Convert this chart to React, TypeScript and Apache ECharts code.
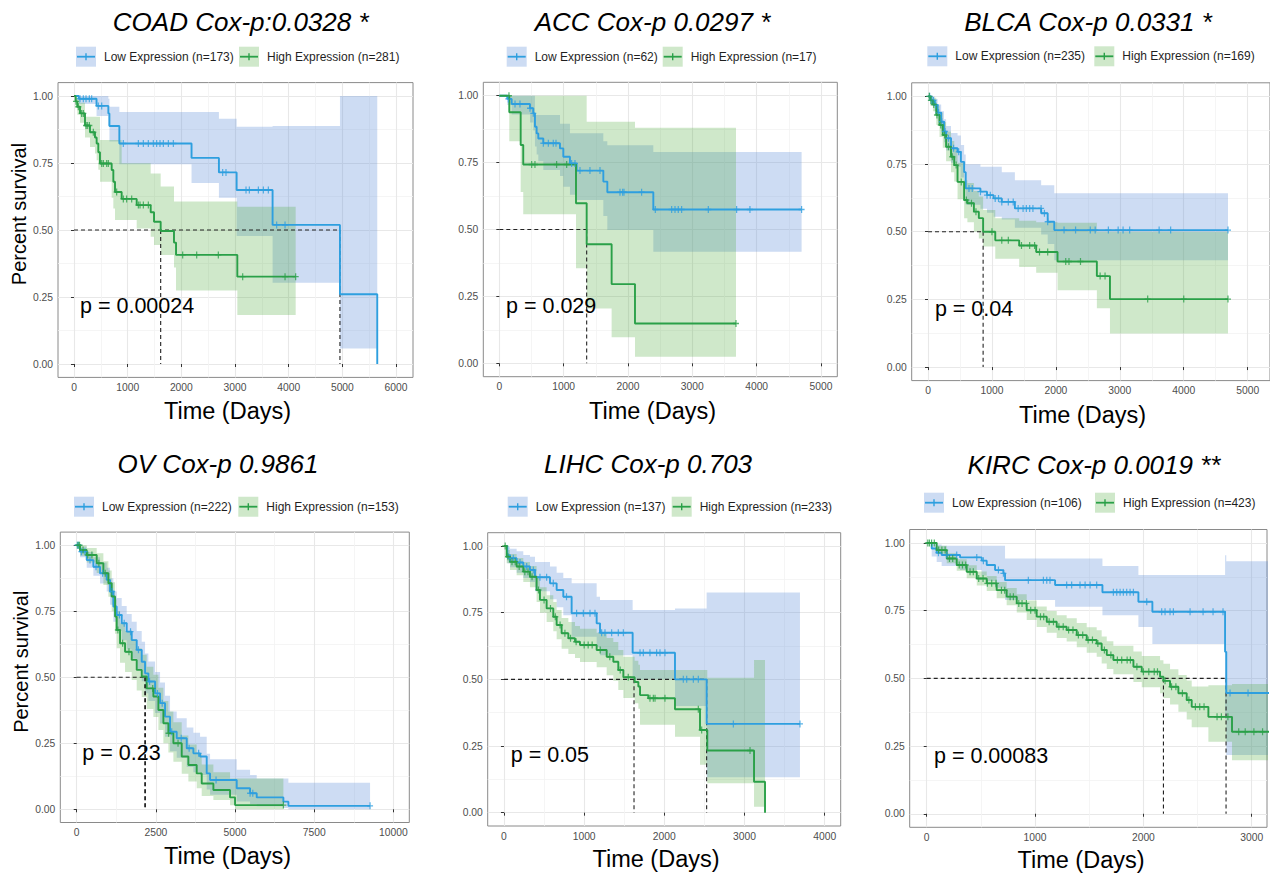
import React, { useEffect, useRef } from "react";
import * as echarts from "echarts";

// [time (days), survival, lower CI, upper CI]
type Row = [number, number, number, number];

const FONT = '"Liberation Sans", Arial, Helvetica, sans-serif';
const BLUE = "#2E9FDF";
const GREEN = "#2AA048";
const BLUE_BAND = "rgba(90,140,215,0.3)";
const GREEN_BAND = "rgba(76,170,60,0.27)";

const Y_TICKS = [0, 0.25, 0.5, 0.75, 1];
const Y_MINOR = [0.125, 0.375, 0.625, 0.875];

// ---------------- COAD ----------------
const COAD_LOW: Row[] = [
  [0, 1, 1, 1], [90, 0.99, 0.97, 1], [420, 0.963, 0.925, 1], [640, 0.935, 0.89, 0.99],
  [660, 0.888, 0.83, 0.96], [845, 0.823, 0.745, 0.94], [2190, 0.769, 0.675, 0.94],
  [2700, 0.715, 0.62, 0.915], [3030, 0.649, 0.478, 0.885], [3700, 0.519, 0.303, 0.888],
  [4955, 0.26, 0.058, 1.0], [5650, 0, 0, 0],
];
const COAD_HIGH: Row[] = [
  [0, 1, 1, 1], [30, 0.98, 0.955, 1], [62, 0.96, 0.93, 0.99], [112, 0.935, 0.9, 0.975],
  [205, 0.89, 0.845, 0.923], [298, 0.865, 0.81, 0.923], [391, 0.845, 0.785, 0.923],
  [422, 0.823, 0.76, 0.923], [453, 0.79, 0.725, 0.923], [484, 0.748, 0.68, 0.836],
  [702, 0.724, 0.62, 0.836], [733, 0.68, 0.58, 0.836], [764, 0.642, 0.537, 0.836],
  [888, 0.616, 0.537, 0.749], [1168, 0.593, 0.506, 0.749], [1429, 0.566, 0.475, 0.711],
  [1491, 0.531, 0.444, 0.711], [1615, 0.496, 0.407, 0.662], [1863, 0.453, 0.36, 0.606],
  [1901, 0.407, 0.274, 0.606], [3043, 0.326, 0.183, 0.587], [4130, 0.326, 0.183, 0.587],
];
const COAD_LOW_CENSOR = [112, 174, 224, 286, 329, 453, 516, 919, 1199, 1292, 1385, 1478, 1540, 1602, 1665, 1758, 1851, 2770, 2832, 3205, 3267, 3435, 3528, 3621, 3776, 3932];
const COAD_HIGH_CENSOR = [37, 81, 143, 174, 224, 248, 286, 360, 516, 547, 609, 640, 795, 919, 981, 1075, 1199, 1230, 1292, 1385, 2025, 2286, 2689, 3143, 3932, 4130];
const COAD_MEDIANS = [1615, 4955];
const COAD_X_TICKS = [0, 1000, 2000, 3000, 4000, 5000, 6000];
const COAD_X_MINOR = [500, 1500, 2500, 3500, 4500, 5500];

// ---------------- ACC ----------------
const ACC_LOW: Row[] = [
  [0, 1, 1, 1], [124, 0.988, 0.965, 1], [192, 0.969, 0.93, 1], [477, 0.953, 0.9, 1],
  [528, 0.934, 0.87, 1], [554, 0.884, 0.81, 0.928], [580, 0.859, 0.78, 0.928],
  [606, 0.84, 0.755, 0.928], [684, 0.822, 0.722, 0.928], [943, 0.803, 0.7, 0.895],
  [995, 0.772, 0.66, 0.895], [1098, 0.747, 0.63, 0.86], [1202, 0.72, 0.61, 0.86],
  [1617, 0.679, 0.55, 0.83], [1679, 0.639, 0.498, 0.815], [2394, 0.575, 0.417, 0.79],
  [4699, 0.575, 0.417, 0.79],
];
const ACC_HIGH: Row[] = [
  [0, 1, 1, 1], [155, 0.938, 0.83, 1], [332, 0.816, 0.64, 1], [372, 0.743, 0.557, 1],
  [1192, 0.598, 0.355, 1], [1358, 0.445, 0.205, 0.903], [1746, 0.296, 0.097, 0.903],
  [2109, 0.149, 0.025, 0.88], [3679, 0.149, 0.025, 0.88],
];
const ACC_LOW_CENSOR = [140, 244, 321, 477, 528, 684, 762, 839, 881, 1124, 1176, 1254, 1409, 1565, 1876, 1917, 1938, 2212, 2425, 2679, 2731, 2782, 2834, 3249, 3689, 3896, 4699];
const ACC_HIGH_CENSOR = [150, 503, 554, 891, 1047, 3679];
const ACC_MEDIANS = [1358];
const ACC_X_TICKS = [0, 1000, 2000, 3000, 4000, 5000];
const ACC_X_MINOR = [500, 1500, 2500, 3500, 4500];

// ---------------- BLCA ----------------
const BLCA_LOW: Row[] = [
  [0, 1, 1, 1], [50, 0.985, 0.97, 1], [103, 0.968, 0.945, 0.99], [150, 0.94, 0.91, 0.97],
  [206, 0.906, 0.87, 0.945], [250, 0.87, 0.83, 0.915], [283, 0.845, 0.8, 0.89],
  [360, 0.808, 0.755, 0.865], [462, 0.795, 0.74, 0.855], [514, 0.758, 0.7, 0.82],
  [565, 0.72, 0.66, 0.785], [590, 0.66, 0.6, 0.749], [820, 0.648, 0.585, 0.74],
  [923, 0.635, 0.57, 0.74], [1026, 0.623, 0.555, 0.74], [1154, 0.61, 0.545, 0.72],
  [1359, 0.586, 0.515, 0.69], [1770, 0.568, 0.49, 0.672], [1872, 0.537, 0.455, 0.672],
  [1975, 0.506, 0.395, 0.642], [4692, 0.506, 0.395, 0.642],
];
const BLCA_HIGH: Row[] = [
  [0, 1, 1, 1], [40, 0.985, 0.965, 1], [77, 0.97, 0.945, 0.995], [129, 0.931, 0.895, 0.965],
  [180, 0.894, 0.85, 0.94], [231, 0.857, 0.81, 0.905], [283, 0.814, 0.76, 0.87],
  [360, 0.777, 0.72, 0.835], [410, 0.746, 0.685, 0.81], [462, 0.684, 0.62, 0.755],
  [565, 0.617, 0.55, 0.69], [616, 0.605, 0.535, 0.68], [718, 0.574, 0.5, 0.65],
  [795, 0.55, 0.475, 0.63], [862, 0.5, 0.445, 0.58], [1052, 0.468, 0.4, 0.55],
  [1426, 0.449, 0.37, 0.54], [1692, 0.425, 0.348, 0.535], [2026, 0.39, 0.284, 0.533],
  [2641, 0.336, 0.217, 0.5], [2846, 0.251, 0.124, 0.5], [4692, 0.251, 0.124, 0.5],
];
const BLCA_LOW_CENSOR = [25, 55, 85, 120, 165, 215, 265, 320, 400, 480, 641, 692, 820, 923, 974, 1051, 1103, 1154, 1256, 1333, 1410, 1487, 1538, 1590, 1641, 1769, 1821, 1872, 2128, 2308, 2538, 2615, 2821, 2974, 3051, 3154, 3615, 3795, 4692];
const BLCA_HIGH_CENSOR = [20, 45, 90, 140, 200, 260, 320, 380, 440, 520, 600, 680, 750, 1000, 1154, 1256, 1462, 1590, 1667, 1744, 1872, 2154, 2205, 2385, 2692, 2769, 3436, 4000, 4692];
const BLCA_MEDIANS = [862];
const BLCA_X_TICKS = [0, 1000, 2000, 3000, 4000, 5000];
const BLCA_X_MINOR = [500, 1500, 2500, 3500, 4500];

// ---------------- OV ----------------
const OV_LOW: Row[] = [
  [0, 1, 1, 1], [105, 0.976, 0.955, 0.995], [316, 0.944, 0.915, 0.975], [526, 0.919, 0.885, 0.955],
  [737, 0.894, 0.855, 0.935], [947, 0.869, 0.825, 0.915], [1053, 0.825, 0.775, 0.875],
  [1158, 0.768, 0.71, 0.825], [1263, 0.736, 0.675, 0.8], [1421, 0.705, 0.64, 0.77],
  [1579, 0.673, 0.605, 0.74], [1737, 0.641, 0.57, 0.71], [1895, 0.604, 0.53, 0.675],
  [2053, 0.559, 0.485, 0.635], [2158, 0.515, 0.44, 0.59], [2263, 0.484, 0.41, 0.56],
  [2474, 0.439, 0.365, 0.52], [2632, 0.402, 0.325, 0.48], [2789, 0.351, 0.275, 0.43],
  [2947, 0.294, 0.22, 0.37], [3158, 0.269, 0.195, 0.345], [3474, 0.231, 0.16, 0.31],
  [3684, 0.212, 0.14, 0.29], [3895, 0.2, 0.13, 0.275], [4105, 0.136, 0.075, 0.21],
  [4211, 0.111, 0.055, 0.19], [5053, 0.08, 0.03, 0.15], [5474, 0.061, 0.02, 0.13],
  [5684, 0.045, 0.012, 0.117], [6526, 0.029, 0.005, 0.117], [6684, 0.013, 0, 0.101],
  [9263, 0.013, 0, 0.101],
];
const OV_HIGH: Row[] = [
  [0, 1, 1, 1], [105, 0.982, 0.96, 1], [316, 0.963, 0.935, 0.99], [632, 0.932, 0.895, 0.97],
  [842, 0.894, 0.85, 0.94], [1000, 0.856, 0.805, 0.905], [1105, 0.806, 0.75, 0.86],
  [1211, 0.73, 0.665, 0.795], [1263, 0.679, 0.61, 0.75], [1368, 0.629, 0.555, 0.705],
  [1526, 0.597, 0.52, 0.675], [1737, 0.566, 0.49, 0.645], [1895, 0.528, 0.45, 0.61],
  [2053, 0.503, 0.425, 0.585], [2211, 0.458, 0.38, 0.54], [2421, 0.427, 0.35, 0.51],
  [2579, 0.376, 0.3, 0.46], [2737, 0.326, 0.25, 0.41], [2895, 0.288, 0.215, 0.37],
  [3053, 0.25, 0.18, 0.33], [3316, 0.2, 0.135, 0.28], [3526, 0.168, 0.105, 0.245],
  [3789, 0.136, 0.08, 0.21], [3947, 0.098, 0.05, 0.17], [4316, 0.073, 0.035, 0.14],
  [4842, 0.045, 0.015, 0.117], [5000, 0.016, 0, 0.117], [6526, 0.016, 0, 0.117],
];
const OV_LOW_CENSOR = [20, 60, 150, 260, 420, 610, 820, 1120, 1350, 1500, 1700, 1950, 2300, 2550, 2700, 3000, 3300, 3550, 3850, 4400, 5474, 5560, 9263];
const OV_HIGH_CENSOR = [40, 90, 200, 350, 480, 700, 900, 1300, 1450, 1650, 2400, 2900, 3200, 6526];
const OV_MEDIANS = [2150, 2170];
const OV_X_TICKS = [0, 2500, 5000, 7500, 10000];
const OV_X_MINOR = [1250, 3750, 6250, 8750];

// ---------------- LIHC ----------------
const LIHC_LOW: Row[] = [
  [0, 1, 1, 1], [42, 0.966, 0.935, 0.995], [75, 0.954, 0.92, 0.99], [158, 0.938, 0.9, 0.98],
  [241, 0.923, 0.88, 0.966], [324, 0.91, 0.865, 0.96], [387, 0.883, 0.83, 0.94],
  [574, 0.86, 0.8, 0.923], [657, 0.835, 0.77, 0.9], [740, 0.81, 0.74, 0.88],
  [844, 0.748, 0.66, 0.86], [1156, 0.71, 0.62, 0.81], [1198, 0.675, 0.59, 0.798],
  [1605, 0.6, 0.5, 0.76], [2133, 0.5, 0.4, 0.766], [2528, 0.333, 0.133, 0.826],
  [3692, 0.333, 0.133, 0.826],
];
const LIHC_HIGH: Row[] = [
  [0, 1, 1, 1], [33, 0.96, 0.935, 0.985], [75, 0.941, 0.91, 0.97], [158, 0.923, 0.89, 0.955],
  [241, 0.904, 0.865, 0.94], [324, 0.885, 0.845, 0.925], [407, 0.835, 0.79, 0.88],
  [449, 0.798, 0.75, 0.845], [532, 0.766, 0.715, 0.815], [615, 0.735, 0.68, 0.79],
  [657, 0.704, 0.65, 0.76], [719, 0.673, 0.615, 0.73], [803, 0.654, 0.595, 0.715],
  [886, 0.641, 0.58, 0.7], [948, 0.629, 0.565, 0.69], [1156, 0.61, 0.545, 0.675],
  [1281, 0.585, 0.515, 0.655], [1364, 0.566, 0.495, 0.64], [1426, 0.535, 0.46, 0.61],
  [1489, 0.508, 0.43, 0.585], [1630, 0.49, 0.41, 0.57], [1676, 0.473, 0.39, 0.555],
  [1697, 0.441, 0.33, 0.535], [1800, 0.429, 0.33, 0.535], [2133, 0.388, 0.285, 0.535],
  [2445, 0.31, 0.18, 0.535], [2536, 0.233, 0.11, 0.506], [3119, 0.116, 0.022, 0.5725],
  [3256, 0, 0, 0],
];
const LIHC_LOW_CENSOR = [75, 116, 200, 283, 366, 449, 532, 615, 780, 906, 990, 1073, 1135, 1218, 1260, 1343, 1426, 1489, 1697, 1738, 1821, 1904, 1946, 2008, 2237, 2279, 2362, 2424, 2861, 3692];
const LIHC_HIGH_CENSOR = [15, 50, 100, 140, 190, 260, 300, 350, 430, 500, 580, 640, 700, 760, 830, 900, 1000, 1050, 1100, 1200, 1320, 1450, 1550, 1821, 1863, 1884, 2008, 2424, 2466, 3069];
const LIHC_MEDIANS = [1622, 2528];
const LIHC_X_TICKS = [0, 1000, 2000, 3000, 4000];
const LIHC_X_MINOR = [500, 1500, 2500, 3500];

// ---------------- KIRC ----------------
const KIRC_LOW: Row[] = [
  [0, 1, 1, 1], [46, 0.98, 0.95, 1], [92, 0.964, 0.93, 0.995], [138, 0.956, 0.915, 0.99],
  [308, 0.947, 0.9, 0.99], [508, 0.935, 0.88, 0.99], [554, 0.919, 0.86, 0.99],
  [631, 0.9, 0.835, 0.99], [708, 0.888, 0.82, 0.99], [723, 0.863, 0.79, 0.943],
  [1185, 0.845, 0.765, 0.943], [1622, 0.818, 0.733, 0.915], [1954, 0.783, 0.69, 0.882],
  [2083, 0.746, 0.627, 0.882], [2754, 0.598, 0.35, 0.955], [2765, 0.446, 0.217, 0.933],
  [3200, 0.446, 0.217, 0.933],
];
const KIRC_HIGH: Row[] = [
  [0, 1, 1, 1], [92, 0.974, 0.96, 0.99], [185, 0.943, 0.925, 0.962], [277, 0.919, 0.898, 0.94],
  [369, 0.894, 0.87, 0.918], [462, 0.869, 0.843, 0.895], [554, 0.851, 0.823, 0.878],
  [646, 0.826, 0.796, 0.856], [738, 0.802, 0.77, 0.834], [831, 0.777, 0.743, 0.811],
  [923, 0.752, 0.716, 0.788], [1015, 0.728, 0.69, 0.766], [1108, 0.709, 0.669, 0.749],
  [1200, 0.691, 0.649, 0.733], [1292, 0.679, 0.636, 0.722], [1385, 0.66, 0.615, 0.705],
  [1477, 0.642, 0.595, 0.689], [1569, 0.629, 0.58, 0.678], [1615, 0.605, 0.555, 0.655],
  [1662, 0.586, 0.535, 0.637], [1723, 0.568, 0.515, 0.621], [1908, 0.543, 0.487, 0.599],
  [1985, 0.525, 0.467, 0.583], [2154, 0.506, 0.445, 0.567], [2185, 0.491, 0.428, 0.554],
  [2246, 0.469, 0.404, 0.534], [2323, 0.445, 0.377, 0.513], [2400, 0.42, 0.348, 0.492],
  [2446, 0.395, 0.32, 0.47], [2600, 0.358, 0.266, 0.475], [2818, 0.303, 0.198, 0.479],
  [3200, 0.303, 0.198, 0.479],
];
const KIRC_LOW_CENSOR = [108, 185, 277, 462, 523, 662, 708, 938, 1077, 1108, 1138, 1292, 1338, 1415, 1462, 1508, 1569, 1723, 1754, 1785, 1815, 1846, 1877, 1908, 2031, 2169, 2200, 2246, 2277, 2431, 2551, 2643, 2735, 2800, 2966];
const KIRC_HIGH_CENSOR = [10, 25, 45, 70, 110, 140, 170, 210, 240, 300, 330, 360, 400, 430, 480, 520, 560, 600, 640, 690, 720, 770, 800, 850, 880, 920, 960, 1000, 1050, 1080, 1130, 1170, 1220, 1260, 1310, 1350, 1400, 1440, 1490, 1530, 1580, 1640, 1700, 1760, 1800, 1850, 1880, 1940, 2000, 2050, 2100, 2130, 2200, 2260, 2300, 2360, 2420, 2480, 2520, 2560, 2680, 2720, 2780, 2880, 2940, 3020, 3100];
const KIRC_MEDIANS = [2185, 2763];
const KIRC_X_TICKS = [0, 1000, 2000, 3000];
const KIRC_X_MINOR = [500, 1500, 2500];

// ---------------- Panel configuration (text + layout) ----------------
interface Panel {
  title: string;
  lowLabel: string;
  highLabel: string;
  pText: string;
  low: Row[];
  high: Row[];
  lowCensor: number[];
  highCensor: number[];
  medians: number[];
  xTicks: number[];
  xMinor: number[];
  grid: [number, number, number, number];
  xRange: [number, number];
  titlePos: [number, number];
  legendX: [number, number];
  legendY: number;
  xTitlePos: [number, number];
  yTitlePos?: [number, number];
  pX: number;
}

const PANELS: Panel[] = [
  {
    title: "COAD Cox-p:0.0328 *", lowLabel: "Low Expression (n=173)", highLabel: "High Expression (n=281)", pText: "p = 0.00024",
    low: COAD_LOW, high: COAD_HIGH, lowCensor: COAD_LOW_CENSOR, highCensor: COAD_HIGH_CENSOR, medians: COAD_MEDIANS,
    xTicks: COAD_X_TICKS, xMinor: COAD_X_MINOR,
    grid: [58, 82.6, 355, 294.8], xRange: [-298, 6316], titlePos: [240.7, 22], legendX: [76, 239], legendY: 56.7,
    xTitlePos: [227.5, 410.5], yTitlePos: [18.5, 214], pX: 112,
  },
  {
    title: "ACC Cox-p 0.0297 *", lowLabel: "Low Expression (n=62)", highLabel: "High Expression (n=17)", pText: "p = 0.029",
    low: ACC_LOW, high: ACC_HIGH, lowCensor: ACC_LOW_CENSOR, highCensor: ACC_HIGH_CENSOR, medians: ACC_MEDIANS,
    xTicks: ACC_X_TICKS, xMinor: ACC_X_MINOR,
    grid: [483.3, 82.3, 354, 294.4], xRange: [-249, 5254], titlePos: [652.5, 22], legendX: [506.7, 662.7], legendY: 56.7,
    xTitlePos: [652.5, 410.5], pX: 104,
  },
  {
    title: "BLCA Cox-p 0.0331 *", lowLabel: "Low Expression (n=235)", highLabel: "High Expression (n=169)", pText: "p = 0.04",
    low: BLCA_LOW, high: BLCA_HIGH, lowCensor: BLCA_LOW_CENSOR, highCensor: BLCA_HIGH_CENSOR, medians: BLCA_MEDIANS,
    xTicks: BLCA_X_TICKS, xMinor: BLCA_X_MINOR,
    grid: [911.7, 82.8, 364.3, 297.8], xRange: [-255, 5349], titlePos: [1088, 22], legendX: [927.3, 1094.3], legendY: 56.3,
    xTitlePos: [1082.5, 415], pX: 102,
  },
  {
    title: "OV Cox-p 0.9861", lowLabel: "Low Expression (n=222)", highLabel: "High Expression (n=153)", pText: "p = 0.23",
    low: OV_LOW, high: OV_HIGH, lowCensor: OV_LOW_CENSOR, highCensor: OV_HIGH_CENSOR, medians: OV_MEDIANS,
    xTicks: OV_X_TICKS, xMinor: OV_X_MINOR,
    grid: [60.3, 532.1, 349, 290.4], xRange: [-518, 10502], titlePos: [218, 464], legendX: [74, 238.3], legendY: 506.7,
    xTitlePos: [227.5, 856], yTitlePos: [20.5, 661.7], pX: 177,
  },
  {
    title: "LIHC Cox-p 0.703", lowLabel: "Low Expression (n=137)", highLabel: "High Expression (n=233)", pText: "p = 0.05",
    low: LIHC_LOW, high: LIHC_HIGH, lowCensor: LIHC_LOW_CENSOR, highCensor: LIHC_HIGH_CENSOR, medians: LIHC_MEDIANS,
    xTicks: LIHC_X_TICKS, xMinor: LIHC_X_MINOR,
    grid: [487.7, 532.7, 353, 293.3], xRange: [-203, 4200], titlePos: [648, 464], legendX: [507.7, 671.7], legendY: 506.7,
    xTitlePos: [656, 859], pX: 84,
  },
  {
    title: "KIRC Cox-p 0.0019 **", lowLabel: "Low Expression (n=106)", highLabel: "High Expression (n=423)", pText: "p = 0.00083",
    low: KIRC_LOW, high: KIRC_HIGH, lowCensor: KIRC_LOW_CENSOR, highCensor: KIRC_HIGH_CENSOR, medians: KIRC_MEDIANS,
    xTicks: KIRC_X_TICKS, xMinor: KIRC_X_MINOR,
    grid: [909.7, 529.5, 357.3, 297.8], xRange: [-157, 3141], titlePos: [1094, 465], legendX: [924, 1095], legendY: 502.7,
    xTitlePos: [1081, 860], pX: 67,
  },
];

const PLUS = "path://M4,0H6V10H4Z M0,4H10V6H0Z";
const Y_MIN = -0.05;
const Y_MAX = 1.05;
const P_Y = 0.215;

function survAt(rows: Row[], t: number): number {
  let s = rows[0][1];
  for (const r of rows) {
    if (r[0] <= t) s = r[1];
    else break;
  }
  return s;
}

function bandSeries(rows: Row[], color: string, axisIdx: number, z: number) {
  return {
    type: "custom",
    xAxisIndex: axisIdx,
    yAxisIndex: axisIdx,
    clip: true,
    silent: true,
    z,
    data: rows.map((r) => [r[0], r[1], r[2], r[3]]),
    encode: { x: 0, y: 1 },
    renderItem: (params: any, api: any) => {
      if (params.dataIndex !== 0) return { type: "group", children: [] };
      const pts: number[][] = [];
      const n = rows.length;
      for (let k = 0; k < n; k++) {
        const t0 = rows[k][0];
        const t1 = k + 1 < n ? rows[k + 1][0] : t0;
        pts.push(api.coord([t0, rows[k][3]]), api.coord([t1, rows[k][3]]));
      }
      for (let k = n - 1; k >= 0; k--) {
        const t0 = rows[k][0];
        const t1 = k + 1 < n ? rows[k + 1][0] : t0;
        pts.push(api.coord([t1, rows[k][2]]), api.coord([t0, rows[k][2]]));
      }
      return { type: "polygon", shape: { points: pts }, style: { fill: color } };
    },
  };
}

function buildOption() {
  const grid: any[] = [];
  const xAxis: any[] = [];
  const yAxis: any[] = [];
  const series: any[] = [];
  const elements: any[] = [];

  PANELS.forEach((p, i) => {
    const [gl, gt, gw, gh] = p.grid;
    const [xMin, xMax] = p.xRange;
    grid.push({
      left: gl, top: gt, width: gw, height: gh,
      show: true, borderColor: "#8A8A8A", borderWidth: 1, backgroundColor: "#ffffff",
    });
    const ai = 2 * i;
    xAxis.push(
      {
        type: "value", gridIndex: i, min: xMin, max: xMax, position: "bottom",
        axisLine: { show: false },
        axisTick: { show: true, length: 3, lineStyle: { color: "#333333", width: 1 }, customValues: p.xTicks },
        axisLabel: {
          show: true, customValues: p.xTicks, fontSize: 10.3, color: "#4D4D4D", margin: 5, fontFamily: FONT,
          formatter: (v: number) => String(Math.round(v)),
        },
        splitLine: { show: true, lineStyle: { color: "#E8E8E8", width: 1.1 } },
      },
      {
        type: "value", gridIndex: i, min: xMin, max: xMax, position: "top",
        axisLine: { show: false },
        axisTick: { show: false, customValues: p.xMinor },
        axisLabel: { show: false, customValues: p.xMinor },
        splitLine: { show: true, lineStyle: { color: "#F3F3F3", width: 0.8 } },
      }
    );
    yAxis.push(
      {
        type: "value", gridIndex: i, min: Y_MIN, max: Y_MAX, position: "left",
        axisLine: { show: false },
        axisTick: { show: true, length: 3, lineStyle: { color: "#333333", width: 1 }, customValues: Y_TICKS },
        axisLabel: {
          show: true, customValues: Y_TICKS, fontSize: 10.3, color: "#4D4D4D", margin: 5, fontFamily: FONT,
          formatter: (v: number) => v.toFixed(2),
        },
        splitLine: { show: true, lineStyle: { color: "#E8E8E8", width: 1.1 } },
      },
      {
        type: "value", gridIndex: i, min: Y_MIN, max: Y_MAX, position: "right",
        axisLine: { show: false },
        axisTick: { show: false, customValues: Y_MINOR },
        axisLabel: { show: false, customValues: Y_MINOR },
        splitLine: { show: true, lineStyle: { color: "#F3F3F3", width: 0.8 } },
      }
    );

    // confidence bands
    series.push(bandSeries(p.low, BLUE_BAND, ai, 1));
    series.push(bandSeries(p.high, GREEN_BAND, ai, 1));

    // median survival lines
    const mMax = Math.max(...p.medians);
    const dash = { color: "#222222", width: 1.1, type: [4, 3] };
    series.push({
      type: "line", xAxisIndex: ai, yAxisIndex: ai, silent: true, z: 3, symbol: "none",
      data: [[0, 0.5], [mMax, 0.5]], lineStyle: dash,
    });
    p.medians.forEach((m) => {
      series.push({
        type: "line", xAxisIndex: ai, yAxisIndex: ai, silent: true, z: 3, symbol: "none",
        data: [[m, 0.5], [m, 0]], lineStyle: dash,
      });
    });

    // survival curves
    const curves: [Row[], number[], string][] = [
      [p.low, p.lowCensor, BLUE],
      [p.high, p.highCensor, GREEN],
    ];
    curves.forEach(([rows, , color]) => {
      series.push({
        type: "line", xAxisIndex: ai, yAxisIndex: ai, silent: true, z: 4, step: "end",
        symbol: "none", showSymbol: false,
        data: rows.map((r) => [r[0], r[1]]),
        lineStyle: { color, width: 1.9 }, itemStyle: { color },
      });
    });
    curves.forEach(([rows, cens, color]) => {
      series.push({
        type: "scatter", xAxisIndex: ai, yAxisIndex: ai, silent: true, z: 5,
        symbol: PLUS, symbolSize: [6, 7],
        data: cens.map((t) => [t, survAt(rows, t)]),
        itemStyle: { color },
      });
    });

    // --- texts & legend (graphic) ---
    elements.push({
      type: "text", x: p.titlePos[0], y: p.titlePos[1], silent: true,
      style: {
        text: p.title, fill: "#000", font: `italic 26px ${FONT}`,
        textAlign: "center", textVerticalAlign: "middle",
      },
    });
    const items: [number, string, string, string][] = [
      [p.legendX[0], p.lowLabel, BLUE, BLUE_BAND],
      [p.legendX[1], p.highLabel, GREEN, GREEN_BAND],
    ];
    items.forEach(([bx, label, lc, bc]) => {
      const cy = p.legendY;
      elements.push(
        { type: "rect", silent: true, shape: { x: bx, y: cy - 10, width: 20, height: 20 }, style: { fill: bc } },
        { type: "line", silent: true, shape: { x1: bx + 1, y1: cy, x2: bx + 19, y2: cy }, style: { stroke: lc, lineWidth: 1.8 } },
        { type: "line", silent: true, shape: { x1: bx + 10, y1: cy - 3.5, x2: bx + 10, y2: cy + 3.5 }, style: { stroke: lc, lineWidth: 1.4 } },
        {
          type: "text", silent: true, x: bx + 28, y: cy,
          style: { text: label, fill: "#1F1F1F", font: `12px ${FONT}`, textAlign: "left", textVerticalAlign: "middle" },
        }
      );
    });
    elements.push({
      type: "text", x: p.xTitlePos[0], y: p.xTitlePos[1], silent: true,
      style: { text: "Time (Days)", fill: "#000", font: `23.5px ${FONT}`, textAlign: "center", textVerticalAlign: "middle" },
    });
    if (p.yTitlePos) {
      elements.push({
        type: "text", x: p.yTitlePos[0], y: p.yTitlePos[1], rotation: Math.PI / 2, silent: true,
        style: { text: "Percent survival", fill: "#000", font: `20px ${FONT}`, textAlign: "center", textVerticalAlign: "middle" },
      });
    }
    // p-value text, anchored to data coordinates of the panel
    const px = gl + ((p.pX - xMin) / (xMax - xMin)) * gw;
    const py = gt + ((Y_MAX - P_Y) / (Y_MAX - Y_MIN)) * gh;
    elements.push({
      type: "text", x: px, y: py, silent: true, z: 10,
      style: { text: p.pText, fill: "#000", font: `21.5px ${FONT}`, textAlign: "left", textVerticalAlign: "middle" },
    });
  });

  return {
    animation: false,
    backgroundColor: "#ffffff",
    grid,
    xAxis,
    yAxis,
    series,
    graphic: { elements },
  };
}

export default function App() {
  const ref = useRef<HTMLDivElement>(null);
  useEffect(() => {
    if (!ref.current) return;
    const chart = echarts.init(ref.current, null, { renderer: "svg" });
    chart.setOption(buildOption() as any);
    return () => chart.dispose();
  }, []);
  return (
    <div
      ref={ref}
      style={{ position: "fixed", left: 0, top: 0, width: 1270, height: 875, background: "#fff" }}
    />
  );
}
